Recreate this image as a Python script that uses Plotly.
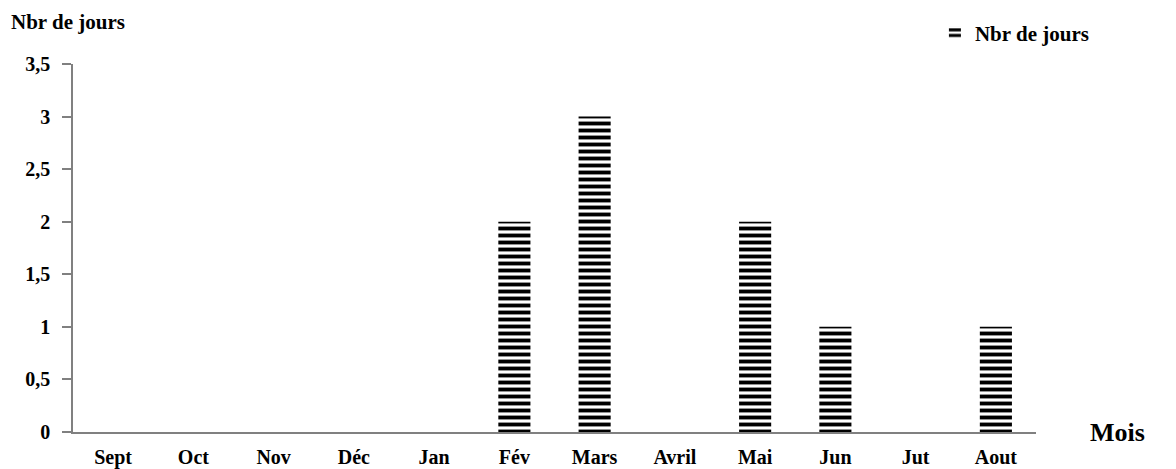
import plotly.graph_objects as go

# Monthly count of days
months = ["Sept", "Oct", "Nov", "Déc", "Jan", "Fév", "Mars", "Avril", "Mai", "Jun", "Jut", "Aout"]
days = [0, 0, 0, 0, 0, 2, 3, 0, 2, 1, 0, 1]

y_ticks = [0, 0.5, 1, 1.5, 2, 2.5, 3, 3.5]
y_tick_labels = ["0", "0,5", "1", "1,5", "2", "2,5", "3", "3,5"]

FONT = "Liberation Serif, Times New Roman, serif"

fig = go.Figure()
fig.add_trace(go.Bar(
    x=months,
    y=days,
    name="Nbr de jours",
    marker=dict(
        color="white",
        line=dict(width=0),
        pattern=dict(shape="-", fgcolor="black", bgcolor="white",
                     size=7, solidity=0.55, fillmode="replace"),
    ),
))

fig.update_layout(
    width=1176, height=469,
    margin=dict(l=73, r=140, t=64, b=37, autoexpand=False),
    plot_bgcolor="white", paper_bgcolor="white",
    bargap=0.6,
    font=dict(family=FONT, size=20, color="black", weight="bold"),
    showlegend=True,
    legend=dict(xref="container", yref="container",
                x=0.795, y=1 - 33 / 469, xanchor="left", yanchor="middle",
                font=dict(family=FONT, size=21, color="black", weight="bold"),
                itemwidth=30, bgcolor="rgba(0,0,0,0)"),
    xaxis=dict(
        showline=True, linecolor="#808080", linewidth=1.5,
        ticks="", showgrid=False, tickfont=dict(size=20),
        ticklabelstandoff=6,
    ),
    yaxis=dict(
        range=[0, 3.5], tickvals=y_ticks, ticktext=y_tick_labels,
        showline=True, linecolor="#808080", linewidth=1.5,
        ticks="outside", ticklen=9, tickcolor="#808080", tickwidth=1.5,
        showgrid=False, zeroline=False, tickfont=dict(size=20),
        ticklabelstandoff=8,
    ),
    annotations=[
        dict(text="Nbr de jours", xref="paper", yref="paper", x=-0.066, y=1.075,
             xanchor="left", yanchor="bottom", showarrow=False,
             font=dict(family=FONT, size=21, color="black", weight="bold")),
        dict(text="Mois", xref="paper", yref="paper", x=1.054, y=0.0,
             xanchor="left", yanchor="middle", showarrow=False,
             font=dict(family=FONT, size=26, color="black", weight="bold")),
    ],
)

fig.write_html("out.html")
